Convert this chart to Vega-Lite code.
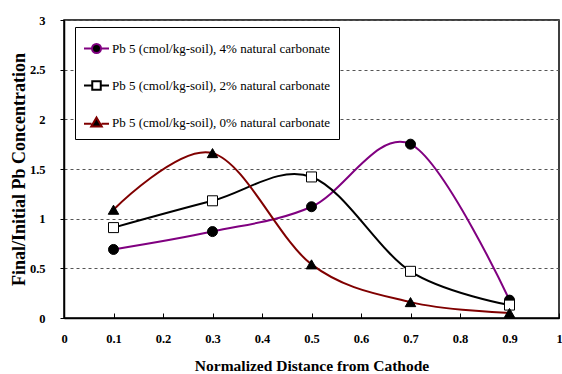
{
  "$schema": "https://vega.github.io/schema/vega-lite/v6.json",
  "autosize": {"type": "none"},
  "width": 495,
  "height": 298,
  "padding": {"left": 64, "top": 20, "right": 3, "bottom": 56},
  "background": "white",
  "config": {
    "view": {"stroke": "black", "strokeWidth": 1.5},
    "font": "'Liberation Serif', serif"
  },
  "data": {
    "values": [
      {"series": "Pb 5 (cmol/kg-soil), 4% natural carbonate", "x": 0.1, "y": 0.69},
      {"series": "Pb 5 (cmol/kg-soil), 4% natural carbonate", "x": 0.3, "y": 0.87},
      {"series": "Pb 5 (cmol/kg-soil), 4% natural carbonate", "x": 0.5, "y": 1.12},
      {"series": "Pb 5 (cmol/kg-soil), 4% natural carbonate", "x": 0.7, "y": 1.75},
      {"series": "Pb 5 (cmol/kg-soil), 4% natural carbonate", "x": 0.9, "y": 0.18},
      {"series": "Pb 5 (cmol/kg-soil), 2% natural carbonate", "x": 0.1, "y": 0.91},
      {"series": "Pb 5 (cmol/kg-soil), 2% natural carbonate", "x": 0.3, "y": 1.18},
      {"series": "Pb 5 (cmol/kg-soil), 2% natural carbonate", "x": 0.5, "y": 1.42},
      {"series": "Pb 5 (cmol/kg-soil), 2% natural carbonate", "x": 0.7, "y": 0.47},
      {"series": "Pb 5 (cmol/kg-soil), 2% natural carbonate", "x": 0.9, "y": 0.13},
      {"series": "Pb 5 (cmol/kg-soil), 0% natural carbonate", "x": 0.1, "y": 1.09},
      {"series": "Pb 5 (cmol/kg-soil), 0% natural carbonate", "x": 0.3, "y": 1.66},
      {"series": "Pb 5 (cmol/kg-soil), 0% natural carbonate", "x": 0.5, "y": 0.54},
      {"series": "Pb 5 (cmol/kg-soil), 0% natural carbonate", "x": 0.7, "y": 0.16},
      {"series": "Pb 5 (cmol/kg-soil), 0% natural carbonate", "x": 0.9, "y": 0.05}
    ]
  },
  "encoding": {
    "x": {
      "field": "x", "type": "quantitative",
      "scale": {"domain": [0, 1], "nice": false, "zero": false},
      "axis": {
        "values": [0, 0.1, 0.2, 0.3, 0.4, 0.5, 0.6, 0.7, 0.8, 0.9, 1],
        "format": "~g",
        "grid": false,
        "title": "Normalized Distance from Cathode",
        "titleFont": "'Liberation Serif', serif", "titleFontSize": 15.5, "titleFontWeight": "bold", "titleColor": "black",
        "titlePadding": 14,
        "labelFont": "'Liberation Serif', serif", "labelFontSize": 12.5, "labelFontWeight": "bold", "labelColor": "black",
        "labelPadding": 19,
        "tickSize": -5, "tickColor": "black", "tickWidth": 1,
        "domainColor": "black", "domainWidth": 1.5,
        "labelFlush": false, "labelOverlap": false
      }
    },
    "y": {
      "field": "y", "type": "quantitative",
      "scale": {"domain": [0, 3], "nice": false},
      "axis": {
        "values": [0, 0.5, 1, 1.5, 2, 2.5, 3],
        "format": "~g",
        "grid": true, "gridDash": [3, 3], "gridColor": "#555", "gridWidth": 1,
        "title": "Final/Initial Pb Concentration",
        "titleFont": "'Liberation Serif', serif", "titleFontSize": 18, "titleFontWeight": "bold", "titleColor": "black",
        "titlePadding": 1,
        "labelFont": "'Liberation Serif', serif", "labelFontSize": 12.5, "labelFontWeight": "bold", "labelColor": "black",
        "labelPadding": 15,
        "tickSize": 4, "tickColor": "black",
        "domainColor": "black", "domainWidth": 1.5,
        "labelFlush": false, "labelOverlap": false
      }
    }
  },
  "layer": [
    {
      "mark": {"type": "line", "interpolate": "cardinal", "tension": 0, "strokeWidth": 2},
      "encoding": {
        "color": {
          "field": "series", "type": "nominal",
          "scale": {
            "domain": [
              "Pb 5 (cmol/kg-soil), 4% natural carbonate",
              "Pb 5 (cmol/kg-soil), 2% natural carbonate",
              "Pb 5 (cmol/kg-soil), 0% natural carbonate"
            ],
            "range": ["#800080", "#000000", "#800000"]
          },
          "legend": {
            "title": null,
            "orient": "none",
            "legendX": 11,
            "legendY": 7,
            "direction": "vertical",
            "fillColor": "white",
            "strokeColor": "black",
            "padding": 8,
            "cornerRadius": 0,
            "symbolSize": 625,
            "symbolStrokeWidth": 2,
            "rowPadding": 15,
            "labelFont": "'Liberation Serif', serif",
            "labelFontSize": 13,
            "labelColor": "black",
            "labelOffset": 2,
            "labelLimit": 400,
            "encode": {
              "symbols": {
                "update": {
                  "shape": {"signal": "datum.index == 0 ? 'M-1,0L-0.36,0M0.36,0L1,0M0.36,0A0.36,0.36,0,1,1,-0.36,0A0.36,0.36,0,1,1,0.36,0Z' : datum.index == 1 ? 'M-1,0L-0.34,0M0.34,0L1,0M-0.34,-0.34L0.34,-0.34L0.34,0.34L-0.34,0.34Z' : 'M-1,0.1L-0.4,0.1M0.4,0.1L1,0.1M0,-0.4L0.42,0.32L-0.42,0.32Z'"},
                  "fill": {"signal": "datum.index == 1 ? 'white' : 'black'"},
                  "size": {"value": 625},
                  "strokeWidth": {"value": 2}
                }
              }
            }
          }
        }
      }
    },
    {
      "transform": [{"filter": "datum.series == 'Pb 5 (cmol/kg-soil), 4% natural carbonate'"}],
      "mark": {"type": "point", "shape": "circle", "filled": true, "fill": "black", "stroke": "black", "strokeWidth": 1, "opacity": 1, "size": 100}
    },
    {
      "transform": [{"filter": "datum.series == 'Pb 5 (cmol/kg-soil), 2% natural carbonate'"}],
      "mark": {"type": "point", "shape": "square", "filled": true, "fill": "white", "stroke": "black", "strokeWidth": 1, "opacity": 1, "size": 100}
    },
    {
      "transform": [{"filter": "datum.series == 'Pb 5 (cmol/kg-soil), 0% natural carbonate'"}],
      "mark": {"type": "point", "shape": "triangle-up", "filled": true, "fill": "black", "stroke": "black", "strokeWidth": 1, "opacity": 1, "size": 110}
    }
  ]
}
